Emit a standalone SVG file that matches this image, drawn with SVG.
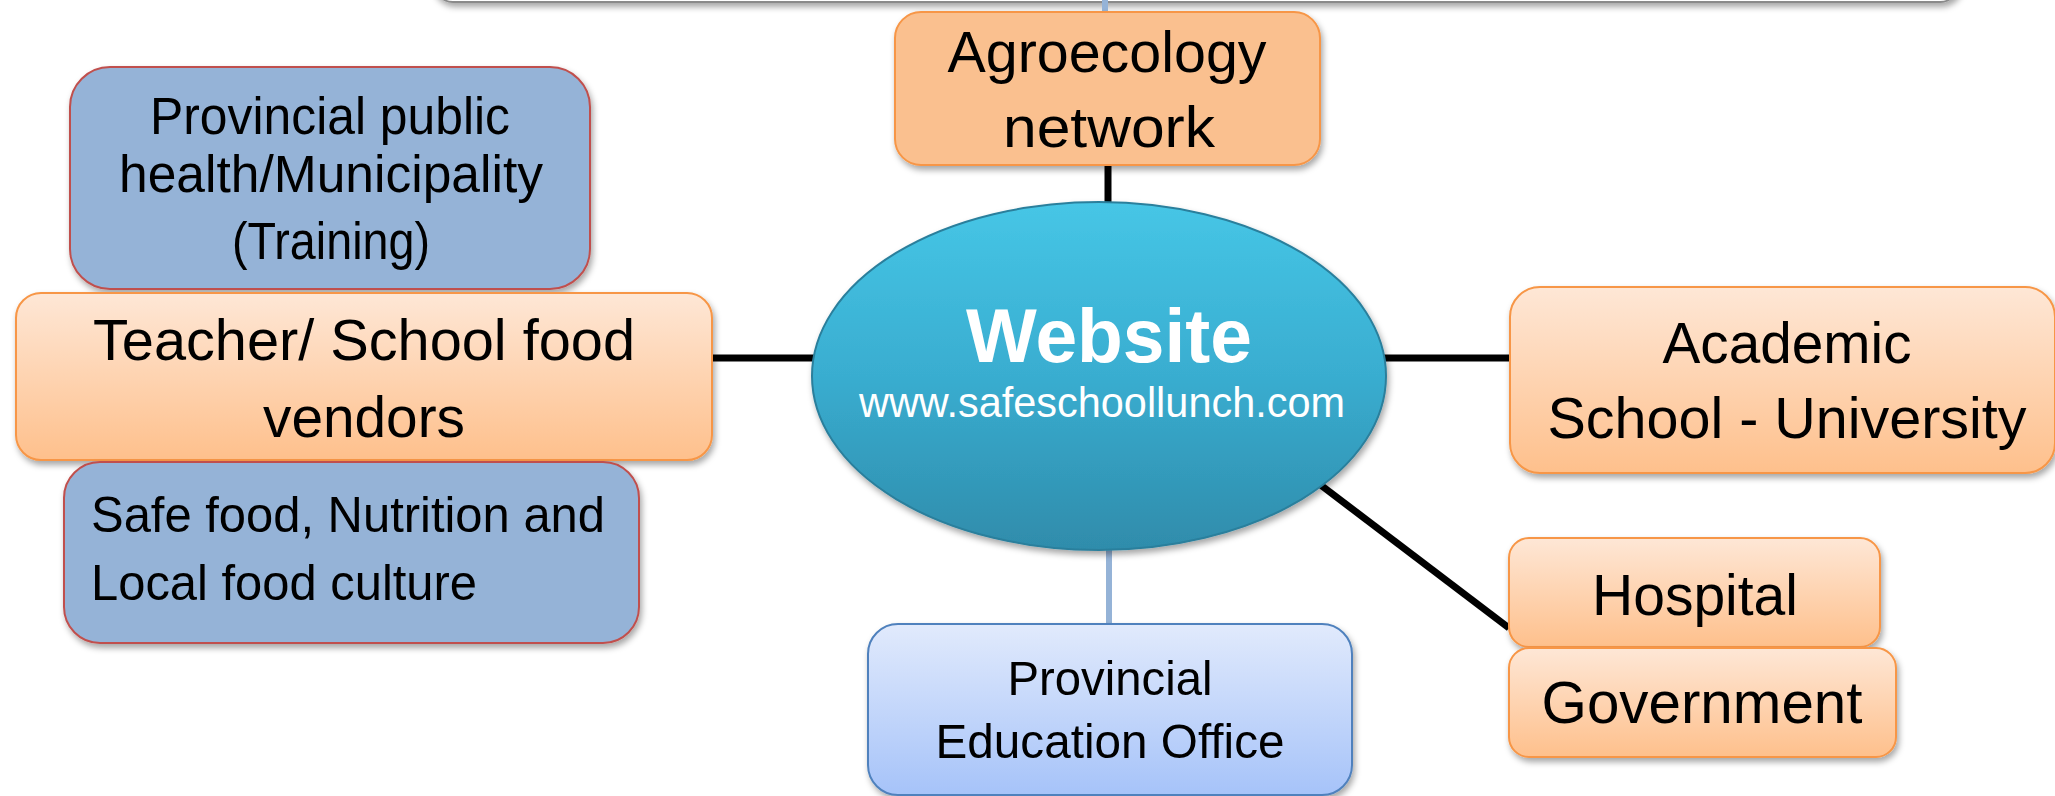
<svg xmlns="http://www.w3.org/2000/svg" width="2055" height="796" viewBox="0 0 2055 796">
<defs>
<style>
.t{font-family:"Liberation Sans",Arial,sans-serif;fill:#000;text-anchor:middle}
.tl{font-family:"Liberation Sans",Arial,sans-serif;fill:#000;text-anchor:start}
.w{font-family:"Liberation Sans",Arial,sans-serif;fill:#fff;text-anchor:middle}
.blk{stroke:#000;stroke-width:7;fill:none}
.blu{stroke:#95B3D7;stroke-width:6;fill:none}
.org{fill:url(#gOrg);stroke:#F79646;stroke-width:2}
.red{fill:#95B3D7;stroke:#C0504D;stroke-width:2}
</style>
<linearGradient id="gOrg" x1="0" y1="0" x2="0" y2="1">
<stop offset="0" stop-color="#FEE7D6"/>
<stop offset="1" stop-color="#FEC08C"/>
</linearGradient>
<linearGradient id="gEdu" x1="0" y1="0" x2="0" y2="1">
<stop offset="0" stop-color="#E1EAFC"/>
<stop offset="1" stop-color="#A6C3F9"/>
</linearGradient>
<linearGradient id="gEll" x1="0" y1="0" x2="0" y2="1">
<stop offset="0" stop-color="#46C6E6"/>
<stop offset="0.5" stop-color="#39ADD0"/>
<stop offset="1" stop-color="#2F8CAB"/>
</linearGradient>
<filter id="sh" x="-10%" y="-10%" width="120%" height="130%">
<feDropShadow dx="2" dy="4" stdDeviation="3" flood-color="#000" flood-opacity="0.35"/>
</filter>
</defs>

<g id="top-bar">
<rect x="433" y="-100" width="1527" height="102" rx="20" fill="#fff" stroke="#8a8a8a" stroke-width="2" filter="url(#sh)"/>
</g>

<g id="connectors">
<line class="blu" x1="1105" y1="0" x2="1105" y2="13"/>
<line class="blk" x1="1108" y1="165" x2="1108" y2="205"/>
<line class="blk" x1="710" y1="358" x2="815" y2="358"/>
<line class="blk" x1="1383" y1="358" x2="1511" y2="358"/>
<line class="blk" x1="1318" y1="483" x2="1509" y2="628"/>
<line class="blu" x1="1109" y1="548" x2="1109" y2="625"/>
</g>

<g id="agroecology">
<rect x="895" y="12" width="425" height="153" rx="26" fill="#FAC08F" stroke="#F79646" stroke-width="2" filter="url(#sh)"/>
<text class="t" x="1107" y="72" font-size="58" textLength="319" lengthAdjust="spacingAndGlyphs">Agroecology</text>
<text class="t" x="1109" y="147" font-size="58" textLength="212" lengthAdjust="spacingAndGlyphs">network</text>
</g>

<g id="provincial-public-health">
<rect class="red" x="70" y="67" width="520" height="222" rx="40" filter="url(#sh)"/>
<text class="t" x="330" y="134" font-size="51" textLength="360" lengthAdjust="spacingAndGlyphs">Provincial public</text>
<text class="t" x="331" y="192" font-size="51" textLength="424" lengthAdjust="spacingAndGlyphs">health/Municipality</text>
<text class="t" x="331" y="259" font-size="51" textLength="198" lengthAdjust="spacingAndGlyphs">(Training)</text>
</g>

<g id="teacher">
<rect class="org" x="16" y="293" width="696" height="167" rx="25" filter="url(#sh)"/>
<text class="t" x="364" y="360" font-size="58" textLength="542" lengthAdjust="spacingAndGlyphs">Teacher/ School food</text>
<text class="t" x="364" y="437" font-size="58" textLength="202" lengthAdjust="spacingAndGlyphs">vendors</text>
</g>

<g id="safe-food">
<rect class="red" x="64" y="462" width="575" height="181" rx="36" filter="url(#sh)"/>
<text class="tl" x="91" y="532" font-size="50" textLength="514" lengthAdjust="spacingAndGlyphs">Safe food, Nutrition and</text>
<text class="tl" x="91" y="600" font-size="50" textLength="386" lengthAdjust="spacingAndGlyphs">Local food culture</text>
</g>

<g id="website">
<ellipse cx="1099" cy="376" rx="287" ry="174" fill="url(#gEll)" stroke="#2A7F9C" stroke-width="2" filter="url(#sh)"/>
<text class="w" x="1109" y="362" font-size="76" font-weight="bold" textLength="286" lengthAdjust="spacingAndGlyphs">Website</text>
<text class="w" x="1102" y="417" font-size="42" textLength="486" lengthAdjust="spacingAndGlyphs">www.safeschoollunch.com</text>
</g>

<g id="academic">
<rect class="org" x="1510" y="287" width="545" height="186" rx="30" filter="url(#sh)"/>
<text class="t" x="1787" y="363" font-size="58" textLength="249" lengthAdjust="spacingAndGlyphs">Academic</text>
<text class="t" x="1787" y="438" font-size="58" textLength="479" lengthAdjust="spacingAndGlyphs">School - University</text>
</g>

<g id="hospital">
<rect class="org" x="1509" y="538" width="371" height="109" rx="20" filter="url(#sh)"/>
<text class="t" x="1695" y="615" font-size="58" textLength="206" lengthAdjust="spacingAndGlyphs">Hospital</text>
</g>

<g id="government">
<rect class="org" x="1509" y="648" width="387" height="109" rx="20" filter="url(#sh)"/>
<text class="t" x="1702" y="723" font-size="59" textLength="321" lengthAdjust="spacingAndGlyphs">Government</text>
</g>

<g id="education-office">
<rect x="868" y="624" width="484" height="171" rx="30" fill="url(#gEdu)" stroke="#4F81BD" stroke-width="2" filter="url(#sh)"/>
<text class="t" x="1110" y="695" font-size="49" textLength="205" lengthAdjust="spacingAndGlyphs">Provincial</text>
<text class="t" x="1110" y="758" font-size="49" textLength="349" lengthAdjust="spacingAndGlyphs">Education Office</text>
</g>
</svg>
